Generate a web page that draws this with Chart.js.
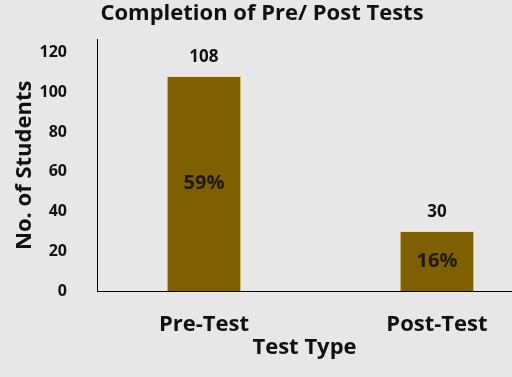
<!DOCTYPE html>
<html>
<head>
<meta charset="utf-8">
<script src="https://cdn.jsdelivr.net/npm/chart.js@4/dist/chart.umd.min.js"></script>
<style>
  html, body { margin: 0; padding: 0; background: #e7e7e7; }
  #wrap { width: 512px; height: 377px; }
</style>
</head>
<body>
<div id="wrap"><canvas id="chart" width="512" height="377"></canvas></div>
<script>
// chart data
var categories = ['Pre-Test', 'Post-Test'];
var students = [108, 30];
var percents = ['59%', '16%'];
var yTicks = [0, 20, 40, 60, 80, 100, 120];

var FONT = '"Open Sans", sans-serif';

// labels: count above the bar, percentage inside it
var barLabels = {
  id: 'barLabels',
  afterDatasetsDraw: function(chart) {
    var ctx = chart.ctx;
    var meta = chart.getDatasetMeta(0);
    ctx.save();
    ctx.textAlign = 'center';
    ctx.textBaseline = 'middle';
    meta.data.forEach(function(bar, i) {
      ctx.fillStyle = '#111';
      ctx.font = 'bold 17px ' + FONT;
      ctx.fillText(String(students[i]), bar.x, bar.y - 19);
      ctx.fillStyle = '#1e1a0e';
      ctx.font = 'bold 20px ' + FONT;
      ctx.fillText(percents[i], bar.x, (bar.y + bar.base) / 2);
    });
    ctx.restore();
  }
};

new Chart(document.getElementById('chart'), {
  type: 'bar',
  data: {
    datasets: [{
      data: students.map(function(v, i) { return { x: i, y: v }; }),
      backgroundColor: '#7f6000',
      borderColor: '#f3dfa8',
      borderWidth: 1,
      barThickness: 74
    }]
  },
  options: {
    responsive: false,
    animation: false,
    layout: { padding: { left: 12, right: 0, top: 0, bottom: 0 } },
    plugins: {
      legend: { display: false },
      tooltip: { enabled: false },
      title: {
        display: true,
        text: 'Completion of Pre/ Post Tests',
        color: '#111',
        font: { family: FONT, size: 22, weight: 'bold' },
        padding: { top: 0, bottom: 13 }
      }
    },
    scales: {
      x: {
        type: 'linear',
        offset: false,
        min: -0.459,
        max: 1.322,
        grid: { display: false, drawTicks: false },
        border: { display: true, color: '#000', width: 1 },
        afterBuildTicks: function(axis) {
          axis.ticks = categories.map(function(c, i) { return { value: i }; });
        },
        afterFit: function(axis) { axis.height = 86; },
        ticks: {
          color: '#111',
          padding: 21,
          maxRotation: 0,
          autoSkip: false,
          font: { family: FONT, size: 22, weight: 'bold' },
          callback: function(v) { return categories[v]; }
        },
        title: {
          display: true,
          text: 'Test Type',
          color: '#111',
          font: { family: FONT, size: 22, weight: 'bold' },
          padding: { top: 0, bottom: 16 }
        }
      },
      y: {
        min: 0,
        max: 126.5,
        grid: { display: false, drawTicks: false },
        border: { display: true, color: '#000', width: 1 },
        afterBuildTicks: function(axis) {
          axis.ticks = yTicks.map(function(v) { return { value: v }; });
        },
        afterFit: function(axis) { axis.width = 85; },
        ticks: {
          color: '#111',
          padding: 30,
          font: { family: FONT, size: 16, weight: 'bold' }
        },
        title: {
          display: true,
          text: 'No. of Students',
          color: '#111',
          font: { family: FONT, size: 22, weight: 'bold' },
          padding: { top: 0, bottom: 3 }
        }
      }
    }
  },
  plugins: [barLabels]
});
</script>
</body>
</html>
